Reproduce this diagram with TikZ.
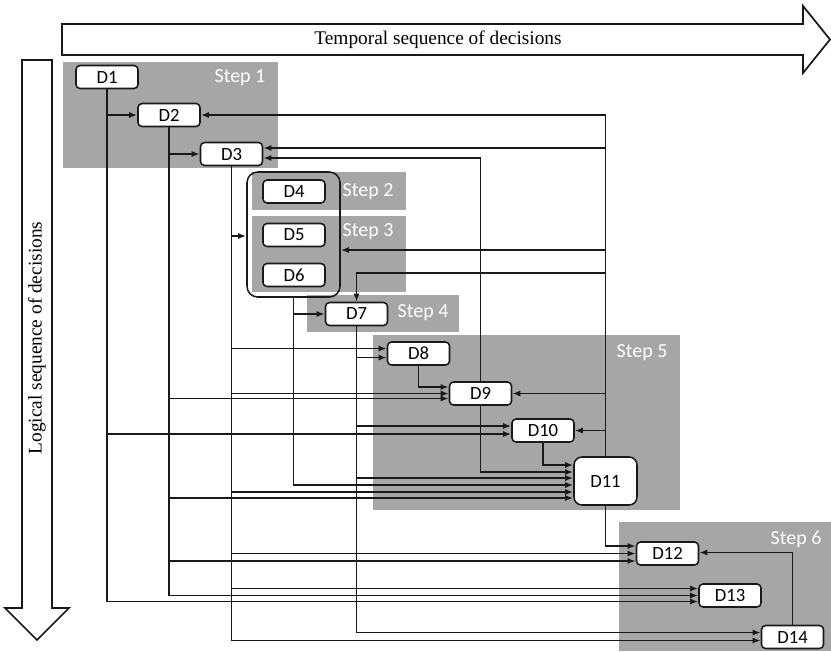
\documentclass[tikz,border=0pt]{standalone}
\usepackage{fontspec}
\newfontfamily\calfont{Carlito}
\newfontfamily\tmsfont{Liberation Serif}
\usetikzlibrary{calc,arrows.meta}
\definecolor{stepgray}{RGB}{166,166,166}
\definecolor{ink}{RGB}{25,25,25}
\tikzset{
  stepbg/.style={fill=stepgray,draw=none},
  steplab/.style={text=white,font=\calfont\fontsize{15pt}{15pt}\selectfont,inner sep=0pt},
  dbox/.style={draw=ink,fill=white,line width=1.15pt,rounded corners=3pt,minimum width=46.5pt,minimum height=17.25pt,inner sep=0pt,font=\calfont\fontsize{14pt}{14pt}\selectfont},
  bigbox/.style={dbox,rounded corners=6pt,minimum width=47.25pt,minimum height=36pt},
  grpbox/.style={draw=ink,line width=1.15pt,rounded corners=8pt,minimum width=69.75pt,minimum height=93.75pt,inner sep=0pt},
  conn/.style={draw=ink,line width=1.2pt,-{Latex[length=6pt,width=4.5pt]}},
  bigarrow/.style={draw=ink,line width=1.3pt,fill=white,line join=miter},
  biglab/.style={font=\tmsfont\fontsize{14.5pt}{14.5pt}\selectfont,inner sep=0pt}
}
\begin{document}
\begin{tikzpicture}[x=0.75pt,y=-0.75pt]
\useasboundingbox (0,0) rectangle (831,651);
% big arrows
\draw[bigarrow] (62,24) -- (803,24) -- (803,6) -- (830,39.5) -- (803,73) -- (803,55) -- (62,55) -- cycle;
\node[biglab] (tlab) at (438,40) {Temporal sequence of decisions};
\draw[bigarrow] (22,60) -- (52,60) -- (52,608) -- (69,608) -- (37,640) -- (5,608) -- (22,608) -- cycle;
\node[biglab,rotate=90] (llab) at (37,338) {Logical sequence of decisions};
% step backgrounds
\fill[stepbg] (63,62) rectangle (278,168);
\fill[stepbg] (252,172) rectangle (406,210);
\fill[stepbg] (252,216) rectangle (406,292);
\fill[stepbg] (307,295) rectangle (459,332);
\fill[stepbg] (373,335) rectangle (680,510);
\fill[stepbg] (619,522) rectangle (831,651);
\node[steplab] (s1) at (240,78) {Step 1};
\node[steplab] (s2) at (368,192) {Step 2};
\node[steplab] (s3) at (368,232) {Step 3};
\node[steplab] (s4) at (423,313) {Step 4};
\node[steplab] (s5) at (642,353) {Step 5};
\node[steplab] (s6) at (796,539) {Step 6};
% nodes
\node[dbox] (D1) at (107,77) {D1};
\node[dbox] (D2) at (169,115) {D2};
\node[dbox] (D3) at (231.5,154) {D3};
\node[grpbox] (grp) at (293.5,234.5) {};
\node[dbox] (D4) at (294,191.5) {D4};
\node[dbox] (D5) at (294,235) {D5};
\node[dbox] (D6) at (294,275) {D6};
\node[dbox] (D7) at (356.5,314) {D7};
\node[dbox] (D8) at (418.5,353.5) {D8};
\node[dbox] (D9) at (480.5,393.5) {D9};
\node[dbox] (D10) at (543,430.5) {D10};
\node[bigbox] (D11) at (605.5,481) {D11};
\node[dbox] (D12) at (667.5,553.5) {D12};
\node[dbox] (D13) at (730,595.5) {D13};
\node[dbox] (D14) at (792.5,637) {D14};
% D1 outputs
\draw[conn] (D1.south) |- (D2.west);
\draw[conn] (D1.south) |- ($(D10.west)+(0,3.5)$);
\draw[conn] (D1.south) |- ($(D13.west)+(0,6)$);
% D2 outputs
\draw[conn] (D2.south) |- (D3.west);
\draw[conn] (D2.south) |- ($(D9.west)+(0,5)$);
\draw[conn] (D2.south) |- ($(D11.west)+(0,17)$);
\draw[conn] (D2.south) |- ($(D12.west)+(0,7.5)$);
\draw[conn] (D2.south) |- (D13.west);
% D3 outputs
\draw[conn] (D3.south) |- ($(grp.west)+(0,1.5)$);
\draw[conn] (D3.south) |- ($(D8.west)+(0,-5)$);
\draw[conn] (D3.south) |- (D9.west);
\draw[conn] (D3.south) |- ($(D11.west)+(0,11)$);
\draw[conn] (D3.south) |- (D12.west);
\draw[conn] (D3.south) |- ($(D13.west)+(0,-7)$);
\draw[conn] (D3.south) |- ($(D14.west)+(0,3.5)$);
% group outputs
\draw[conn] (grp.south) |- (D7.west);
\draw[conn] (grp.south) |- ($(D11.west)+(0,4)$);
% D7 outputs
\draw[conn] (D7.south) |- ($(D8.west)+(0,4)$);
\draw[conn] (D7.south) |- ($(D10.west)+(0,-4.5)$);
\draw[conn] (D7.south) |- ($(D11.west)+(0,-3)$);
\draw[conn] (D7.south) |- ($(D14.west)+(0,-4.5)$);
% D8, D9, D10
\draw[conn] (D8.south) |- ($(D9.west)+(0,-6.5)$);
\draw[conn] (D9.north) |- ($(D3.east)+(0,4)$);
\draw[conn] (D9.south) |- ($(D11.west)+(0,-9)$);
\draw[conn] (D10.south) |- ($(D11.west)+(0,-16)$);
% D11 feedback
\draw[conn] (D11.north) |- (D2.east);
\draw[conn] (D11.north) |- ($(D3.east)+(0,-6)$);
\draw[conn] (D11.north) |- ($(grp.east)+(0,15.5)$);
\draw[conn] (D11.north) |- ($(D7.north)+(0,-29)$) -- (D7.north);
\draw[conn] (D11.north) |- (D9.east);
\draw[conn] (D11.north) |- (D10.east);
% D11 -> D12, D14 -> D12
\draw[conn] (D11.south) |- ($(D12.west)+(0,-7.5)$);
\draw[conn] (D14.north) |- ($(D12.east)+(0,-1)$);
\end{tikzpicture}
\end{document}
